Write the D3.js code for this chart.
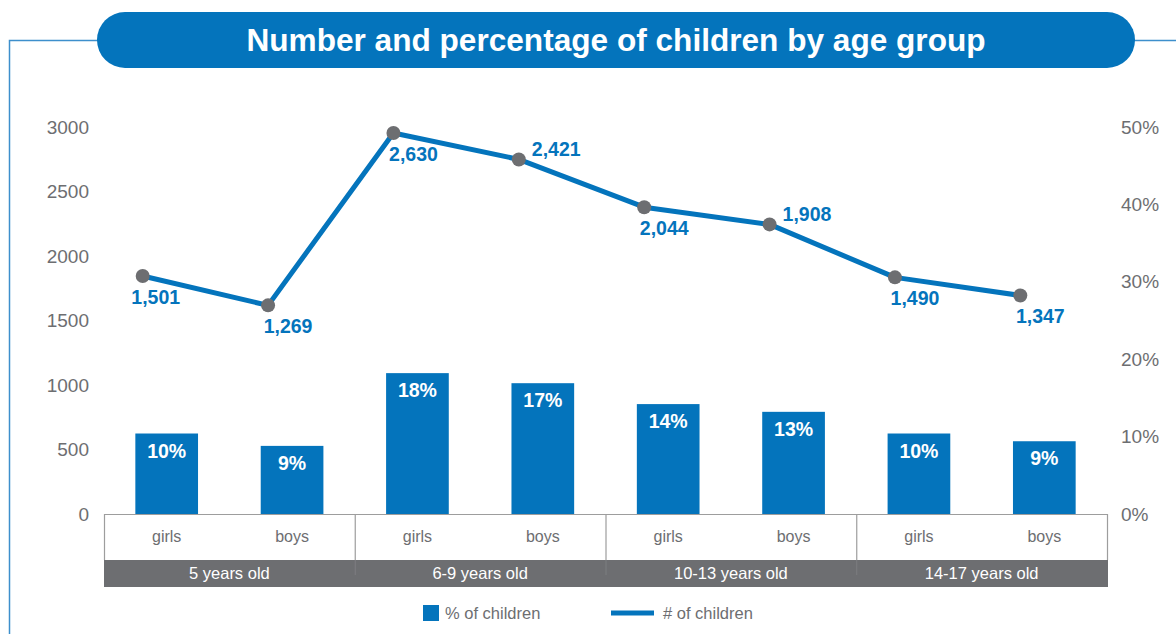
<!DOCTYPE html>
<html>
<head>
<meta charset="utf-8">
<script src="https://cdn.jsdelivr.net/npm/d3@7"></script>
<style>
  html, body { margin: 0; padding: 0; background: #fff; }
  svg { display: block; }
  text { font-family: "Liberation Sans", Arial, Helvetica, sans-serif; }
</style>
</head>
<body>
<svg id="chart" width="1176" height="634"></svg>
<script>
// ---- data ----
const ageGroups = ["5 years old", "6-9 years old", "10-13 years old", "14-17 years old"];
const sexes = ["girls", "boys"];
const childCounts = [1501, 1269, 2630, 2421, 2044, 1908, 1490, 1347];
const childPercents = [10.4, 8.8, 18.2, 16.9, 14.2, 13.2, 10.4, 9.4];
const countTicks = [0, 500, 1000, 1500, 2000, 2500, 3000];
const percentTicks = [0, 10, 20, 30, 40, 50];

// one entry per bar: group + sex
const items = [];
ageGroups.forEach((g, gi) => sexes.forEach((s, si) => {
  const i = gi * sexes.length + si;
  items.push({ id: i, group: g, sex: s, count: childCounts[i], pct: childPercents[i] });
}));

// value-label placement for the line
const labelPlace = ["below", "below", "below", "right", "below", "right", "below", "below"];

const BLUE = "#0474bc";
const GREY = "#6d6e71";
const svg = d3.select("#chart");

// ---- frame and title ----
const frame = svg.append("g");
frame.append("path")
  .attr("d", "M9.5,634 V40.5 H100 M1130,40.5 H1176")
  .attr("fill", "none").attr("stroke", "#3d8fcc").attr("stroke-width", 1.5);
frame.append("rect")
  .attr("x", 97).attr("y", 12).attr("width", 1038).attr("height", 56)
  .attr("rx", 28).attr("ry", 28).attr("fill", BLUE);
frame.append("text")
  .attr("x", 616).attr("y", 51).attr("text-anchor", "middle")
  .attr("fill", "#fff").attr("font-size", 31.6).attr("font-weight", "bold")
  .text("Number and percentage of children by age group");

// ---- scales ----
const plot = { left: 104, right: 1107, top: 127, bottom: 514 };
const x = d3.scaleBand().domain(items.map(d => d.id))
  .range([plot.left, plot.right]).paddingInner(0.5).paddingOuter(0.25);
const xGroup = d3.scaleBand().domain(ageGroups).range([plot.left, plot.right]);
const yCount = d3.scaleLinear().domain([0, 3000]).range([plot.bottom, plot.top]);
const yPct = d3.scaleLinear().domain([0, 50]).range([plot.bottom, plot.top]);
// the count line runs on its own secondary scale
const yLine = d3.scaleLinear().domain([-378, 2677]).range([plot.bottom, plot.top]);
const step = x.step();
const xLine = d3.scalePoint().domain(items.map(d => d.id))
  .range([plot.left + step / 2 - 24, plot.right - step / 2 - 24]);

// ---- axes ----
const leftAxis = svg.append("g").attr("transform", `translate(${plot.left - 15},0)`)
  .call(d3.axisLeft(yCount).tickValues(countTicks).tickSize(0).tickPadding(0).tickFormat(d3.format("d")));
const rightAxis = svg.append("g").attr("transform", `translate(${plot.right + 14},0)`)
  .call(d3.axisRight(yPct).tickValues(percentTicks).tickSize(0).tickPadding(0).tickFormat(d => d + "%"));
[leftAxis, rightAxis].forEach(a => {
  a.select(".domain").remove();
  a.selectAll("text").attr("fill", GREY).attr("font-size", 19)
    .attr("font-family", "'Liberation Sans', Arial, sans-serif");
});

// ---- bars ----
svg.append("g").selectAll("rect").data(items).join("rect")
  .attr("x", d => x(d.id)).attr("width", x.bandwidth())
  .attr("y", d => yPct(d.pct)).attr("height", d => yPct(0) - yPct(d.pct))
  .attr("fill", BLUE);
svg.append("g").selectAll("text").data(items).join("text")
  .attr("x", d => x(d.id) + x.bandwidth() / 2)
  .attr("y", d => yPct(d.pct) + 24)
  .attr("text-anchor", "middle").attr("fill", "#fff")
  .attr("font-size", 19.5).attr("font-weight", "bold")
  .text(d => Math.round(d.pct) + "%");

// ---- category table under the plot ----
const table = svg.append("g");
const rowTop = plot.bottom, rowMid = 560, rowBot = 587;
table.append("rect").attr("x", plot.left).attr("y", rowMid)
  .attr("width", plot.right - plot.left + 1).attr("height", rowBot - rowMid).attr("fill", GREY);
table.append("path")
  .attr("d", `M${plot.left + 0.5},${rowMid} V${rowTop + 0.5} H${plot.right + 0.5} V${rowMid}`)
  .attr("fill", "none").attr("stroke", "#9d9d9d").attr("stroke-width", 1.2);
table.selectAll("line.div").data(ageGroups.slice(1)).join("line")
  .attr("class", "div")
  .attr("x1", d => xGroup(d) + 0.5).attr("x2", d => xGroup(d) + 0.5)
  .attr("y1", rowTop).attr("y2", rowMid)
  .attr("stroke", "#9d9d9d").attr("stroke-width", 1.2);
table.selectAll("line.div2").data(ageGroups.slice(1)).join("line")
  .attr("class", "div2")
  .attr("x1", d => xGroup(d) + 0.5).attr("x2", d => xGroup(d) + 0.5)
  .attr("y1", rowMid).attr("y2", rowMid + 15)
  .attr("stroke", "#7d7e81").attr("stroke-width", 1);
table.selectAll("text.sex").data(items).join("text")
  .attr("class", "sex")
  .attr("x", d => x(d.id) + x.bandwidth() / 2).attr("y", 542)
  .attr("text-anchor", "middle").attr("fill", GREY).attr("font-size", 16)
  .text(d => d.sex);
table.selectAll("text.grp").data(ageGroups).join("text")
  .attr("class", "grp")
  .attr("x", d => xGroup(d) + xGroup.bandwidth() / 2).attr("y", 579)
  .attr("text-anchor", "middle").attr("fill", "#fff").attr("font-size", 16.5)
  .text(d => d);

// ---- count line ----
const line = d3.line().x(d => xLine(d.id)).y(d => yLine(d.count));
svg.append("path").datum(items)
  .attr("d", line).attr("fill", "none")
  .attr("stroke", BLUE).attr("stroke-width", 5).attr("stroke-linejoin", "round");
svg.append("g").selectAll("circle").data(items).join("circle")
  .attr("cx", d => xLine(d.id)).attr("cy", d => yLine(d.count)).attr("r", 7)
  .attr("fill", GREY);
const fmt = d3.format(",");
svg.append("g").selectAll("text").data(items).join("text")
  .attr("x", (d, i) => labelPlace[i] === "right" ? xLine(d.id) + 13 : xLine(d.id) + (i === 0 ? 13 : 20))
  .attr("y", (d, i) => labelPlace[i] === "right" ? yLine(d.count) - 3 : yLine(d.count) + 28)
  .attr("text-anchor", (d, i) => labelPlace[i] === "right" ? "start" : "middle")
  .attr("fill", BLUE).attr("font-size", 19.5).attr("font-weight", "bold")
  .text(d => fmt(d.count));

// ---- legend ----
const legend = svg.append("g");
legend.append("rect").attr("x", 423).attr("y", 605).attr("width", 16).attr("height", 16).attr("fill", BLUE);
legend.append("text").attr("x", 445).attr("y", 619).attr("fill", GREY).attr("font-size", 16.5).text("% of children");
legend.append("line").attr("x1", 611).attr("x2", 654).attr("y1", 613).attr("y2", 613)
  .attr("stroke", BLUE).attr("stroke-width", 5);
legend.append("text").attr("x", 663).attr("y", 619).attr("fill", GREY).attr("font-size", 16.5).text("# of children");
</script>
</body>
</html>
